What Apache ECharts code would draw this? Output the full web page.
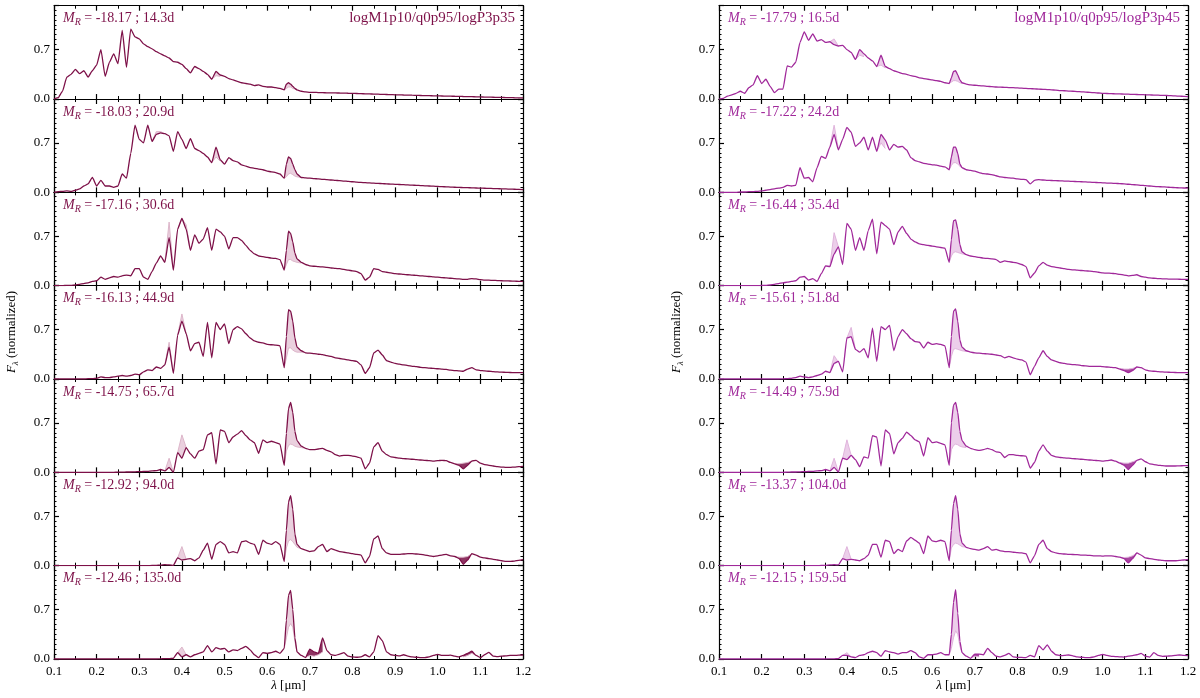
<!DOCTYPE html>
<html>
<head>
<meta charset="utf-8">
<script src="https://cdn.jsdelivr.net/npm/echarts/dist/echarts.min.js"></script>
<style>
  html, body { margin: 0; padding: 0; background: #fff; }
  #chart { width: 1200px; height: 698px; }
</style>
</head>
<body>
<div id="chart"></div>
<script>
// wavelength grid (micron), finer around H-alpha
const WL = [
  0.10,0.11,0.12,0.13,0.14,0.15,0.16,0.17,0.18,0.19,
  0.20,0.21,0.22,0.23,0.24,0.25,0.26,0.27,0.28,0.29,
  0.30,0.31,0.32,0.33,0.34,0.35,0.36,0.37,0.38,0.39,
  0.40,0.41,0.42,0.43,0.44,0.45,0.46,0.47,0.48,0.49,
  0.50,0.51,0.52,0.53,0.54,0.55,0.56,0.57,0.58,0.59,
  0.60,0.61,0.62,0.63,0.64,0.645,0.65,0.655,0.66,0.665,0.67,
  0.68,0.69,0.70,0.71,0.72,0.73,0.74,0.75,0.76,0.77,0.78,0.79,
  0.80,0.81,0.82,0.83,0.84,0.85,0.86,0.87,0.88,0.89,
  0.90,0.91,0.92,0.93,0.94,0.95,0.96,0.97,0.98,0.99,
  1.00,1.01,1.02,1.03,1.04,1.05,1.06,1.07,1.08,1.09,
  1.10,1.11,1.12,1.13,1.14,1.15,1.16,1.17,1.18,1.19,1.20
];

// left column: logM1p10/q0p95/logP3p35
const L1 = [
  0.00,0.02,0.11,0.31,0.35,0.42,0.36,0.40,0.31,0.40,
  0.48,0.70,0.32,0.52,0.64,0.50,0.97,0.45,0.99,0.88,
  0.85,0.78,0.74,0.71,0.67,0.64,0.61,0.58,0.53,0.52,
  0.49,0.43,0.37,0.46,0.43,0.39,0.35,0.28,0.39,0.34,
  0.32,0.29,0.27,0.25,0.23,0.22,0.21,0.19,0.20,0.18,
  0.17,0.17,0.16,0.15,0.13,0.21,0.23,0.21,0.18,0.15,0.13,
  0.11,0.10,0.095,0.094,0.092,0.09,0.088,0.087,0.086,0.085,0.083,0.082,
  0.08,0.078,0.076,0.074,0.072,0.07,0.068,0.066,0.064,0.062,
  0.06,0.058,0.057,0.055,0.054,0.052,0.05,0.049,0.047,0.046,
  0.045,0.043,0.042,0.04,0.039,0.037,0.036,0.034,0.033,0.031,
  0.03,0.028,0.027,0.025,0.024,0.022,0.021,0.019,0.018,0.016,0.015
];
const L2 = [
  0.00,0.01,0.015,0.02,0.015,0.03,0.05,0.09,0.12,0.21,
  0.09,0.17,0.09,0.09,0.07,0.09,0.26,0.20,0.55,0.95,
  0.75,0.70,0.95,0.72,0.82,0.84,0.83,0.80,0.58,0.86,
  0.75,0.62,0.76,0.62,0.59,0.55,0.50,0.42,0.64,0.46,
  0.40,0.49,0.45,0.43,0.39,0.37,0.35,0.34,0.33,0.32,
  0.30,0.29,0.28,0.26,0.20,0.40,0.50,0.48,0.40,0.32,0.26,
  0.21,0.205,0.20,0.195,0.19,0.185,0.18,0.175,0.17,0.165,0.16,0.155,
  0.15,0.145,0.14,0.137,0.134,0.13,0.127,0.124,0.12,0.117,
  0.114,0.111,0.108,0.105,0.102,0.099,0.096,0.093,0.09,0.087,
  0.084,0.081,0.078,0.075,0.072,0.07,0.068,0.066,0.064,0.062,
  0.06,0.058,0.056,0.054,0.052,0.05,0.048,0.046,0.044,0.042,0.04
];
const L3 = [
  0.00,0.00,0.00,0.005,0.005,0.01,0.02,0.03,0.04,0.06,
  0.07,0.12,0.09,0.11,0.13,0.12,0.14,0.15,0.14,0.24,
  0.24,0.12,0.09,0.20,0.32,0.42,0.33,0.68,0.22,0.80,
  0.95,0.80,0.50,0.72,0.60,0.66,0.82,0.50,0.80,0.76,
  0.70,0.52,0.68,0.68,0.64,0.57,0.50,0.45,0.42,0.41,
  0.40,0.39,0.385,0.37,0.22,0.50,0.77,0.74,0.62,0.46,0.38,
  0.33,0.30,0.28,0.275,0.27,0.265,0.26,0.25,0.245,0.24,0.23,0.22,
  0.21,0.20,0.17,0.08,0.12,0.24,0.23,0.20,0.19,0.18,
  0.17,0.165,0.16,0.155,0.15,0.145,0.14,0.135,0.13,0.125,
  0.12,0.115,0.11,0.105,0.10,0.095,0.09,0.09,0.10,0.095,
  0.085,0.08,0.078,0.075,0.073,0.07,0.068,0.066,0.064,0.062,0.06
];
const L4 = [
  0.00,0.00,0.00,0.00,0.00,0.00,0.00,0.00,0.005,0.005,
  0.01,0.03,0.02,0.02,0.03,0.04,0.05,0.04,0.05,0.07,
  0.06,0.10,0.13,0.12,0.17,0.15,0.20,0.45,0.08,0.62,
  0.82,0.64,0.40,0.50,0.52,0.32,0.80,0.30,0.80,0.70,
  0.78,0.50,0.70,0.74,0.71,0.64,0.58,0.54,0.52,0.51,
  0.49,0.485,0.48,0.47,0.16,0.60,0.98,0.96,0.82,0.58,0.45,
  0.40,0.37,0.365,0.36,0.35,0.345,0.33,0.32,0.30,0.29,0.28,0.27,
  0.26,0.25,0.20,0.08,0.16,0.37,0.41,0.34,0.26,0.24,
  0.22,0.21,0.20,0.19,0.18,0.175,0.165,0.16,0.155,0.15,
  0.145,0.14,0.135,0.125,0.12,0.115,0.11,0.14,0.16,0.13,
  0.12,0.115,0.11,0.105,0.10,0.097,0.094,0.092,0.09,0.09,0.09
];
const L5 = [
  0,0,0,0,0,0,0,0,0,0,
  0,0,0,0,0,0.003,0.003,0.005,0.005,0.008,
  0.01,0.012,0.015,0.02,0.025,0.04,0.02,0.07,0.00,0.28,
  0.20,0.35,0.26,0.20,0.30,0.32,0.53,0.56,0.12,0.60,
  0.58,0.42,0.50,0.54,0.59,0.52,0.46,0.42,0.27,0.46,
  0.42,0.44,0.42,0.40,0.10,0.55,0.90,0.99,0.85,0.58,0.45,
  0.37,0.34,0.32,0.32,0.33,0.34,0.31,0.29,0.25,0.23,0.24,0.24,
  0.23,0.22,0.20,0.05,0.13,0.36,0.42,0.30,0.25,0.22,
  0.21,0.20,0.195,0.19,0.185,0.18,0.175,0.17,0.165,0.16,
  0.165,0.17,0.165,0.14,0.12,0.10,0.05,0.10,0.16,0.17,
  0.13,0.11,0.10,0.09,0.08,0.075,0.07,0.07,0.075,0.08,0.085
];
const L6 = [
  0,0,0,0,0,0,0,0,0,0,
  0,0,0,0,0,0,0,0,0,0,
  0,0,0,0.003,0.005,0.008,0.015,0.01,0.005,0.11,
  0.08,0.09,0.10,0.07,0.11,0.22,0.32,0.09,0.30,0.34,
  0.30,0.18,0.20,0.18,0.34,0.35,0.32,0.30,0.16,0.36,
  0.32,0.30,0.34,0.30,0.06,0.50,0.90,0.99,0.80,0.45,0.30,
  0.24,0.22,0.20,0.21,0.27,0.30,0.20,0.24,0.22,0.20,0.19,0.18,
  0.17,0.16,0.15,0.04,0.13,0.38,0.42,0.24,0.18,0.16,
  0.16,0.16,0.165,0.17,0.17,0.165,0.16,0.15,0.14,0.13,
  0.14,0.15,0.16,0.14,0.13,0.10,0.02,0.08,0.17,0.15,
  0.12,0.11,0.10,0.09,0.08,0.07,0.06,0.06,0.065,0.075,0.085
];
const L7 = [
  0,0,0,0,0,0,0,0,0,0,
  0,0,0,0,0,0,0,0,0,0,
  0,0,0,0,0,0.003,0.005,0.005,0.01,0.09,
  0.03,0.06,0.03,0.06,0.08,0.10,0.19,0.10,0.16,0.14,
  0.15,0.10,0.13,0.12,0.15,0.18,0.13,0.06,0.02,0.09,
  0.08,0.09,0.11,0.08,0.15,0.55,0.90,0.97,0.70,0.30,0.10,
  0.05,0.02,0.14,0.10,0.08,0.30,0.12,0.06,0.05,0.07,0.09,0.04,
  0.03,0.025,0.03,0.06,0.03,0.10,0.33,0.26,0.10,0.06,
  0.05,0.045,0.06,0.04,0.03,0.025,0.02,0.02,0.03,0.05,
  0.066,0.05,0.05,0.055,0.04,0.03,0.05,0.08,0.11,0.05,
  0.02,0.06,0.095,0.04,0.035,0.04,0.045,0.05,0.05,0.055,0.057
];

// right column: logM1p10/q0p95/logP3p45
const R1 = [
  0.00,0.01,0.04,0.06,0.08,0.11,0.08,0.16,0.20,0.33,
  0.22,0.28,0.18,0.09,0.14,0.14,0.47,0.45,0.52,0.80,
  0.95,0.83,0.92,0.82,0.84,0.80,0.81,0.77,0.75,0.76,
  0.70,0.66,0.56,0.70,0.64,0.58,0.54,0.46,0.62,0.46,
  0.43,0.40,0.38,0.36,0.35,0.33,0.32,0.30,0.29,0.28,
  0.27,0.26,0.25,0.23,0.22,0.30,0.39,0.40,0.34,0.27,0.23,
  0.21,0.20,0.195,0.19,0.185,0.18,0.175,0.17,0.168,0.165,0.162,0.16,
  0.157,0.154,0.15,0.147,0.144,0.14,0.137,0.134,0.13,0.125,
  0.12,0.117,0.113,0.11,0.106,0.102,0.098,0.094,0.09,0.085,
  0.08,0.078,0.076,0.074,0.072,0.07,0.068,0.066,0.064,0.062,
  0.06,0.058,0.056,0.054,0.052,0.05,0.047,0.044,0.041,0.038,0.035
];
const R2 = [
  0,0,0,0,0,0.005,0.005,0.01,0.01,0.015,
  0.02,0.03,0.04,0.05,0.06,0.07,0.10,0.09,0.10,0.35,
  0.20,0.21,0.15,0.35,0.51,0.48,0.64,0.82,0.60,0.75,
  0.92,0.85,0.65,0.70,0.78,0.60,0.78,0.58,0.82,0.74,
  0.60,0.68,0.64,0.65,0.60,0.49,0.45,0.43,0.41,0.40,
  0.39,0.385,0.37,0.36,0.32,0.50,0.64,0.64,0.55,0.40,0.35,
  0.32,0.31,0.30,0.28,0.265,0.26,0.25,0.235,0.22,0.21,0.205,0.20,
  0.19,0.185,0.18,0.12,0.17,0.18,0.175,0.17,0.168,0.165,
  0.163,0.16,0.158,0.155,0.152,0.15,0.147,0.144,0.141,0.138,
  0.135,0.132,0.13,0.127,0.124,0.12,0.115,0.11,0.105,0.10,
  0.095,0.09,0.085,0.08,0.078,0.075,0.07,0.067,0.064,0.062,0.06
];
const R3 = [
  0,0,0,0,0,0,0,0,0,0,
  0.003,0.005,0.01,0.02,0.03,0.04,0.05,0.06,0.07,0.12,
  0.13,0.08,0.10,0.06,0.17,0.28,0.27,0.45,0.55,0.30,
  0.88,0.80,0.50,0.68,0.50,0.78,0.94,0.45,0.90,0.85,
  0.80,0.58,0.76,0.84,0.74,0.66,0.62,0.59,0.58,0.57,
  0.56,0.55,0.54,0.53,0.33,0.65,0.92,0.93,0.80,0.58,0.48,
  0.44,0.42,0.41,0.40,0.39,0.385,0.38,0.37,0.33,0.35,0.34,0.33,
  0.32,0.30,0.27,0.11,0.18,0.28,0.33,0.29,0.27,0.26,
  0.25,0.24,0.23,0.225,0.22,0.215,0.21,0.205,0.20,0.19,
  0.18,0.178,0.175,0.17,0.16,0.15,0.14,0.145,0.155,0.13,
  0.12,0.11,0.105,0.10,0.097,0.095,0.093,0.092,0.091,0.09,0.09
];
const R4 = [
  0,0,0,0,0,0,0,0,0,0,
  0,0,0,0,0,0.003,0.005,0.01,0.02,0.04,
  0.03,0.02,0.03,0.05,0.07,0.11,0.09,0.22,0.25,0.10,
  0.58,0.60,0.42,0.38,0.43,0.30,0.72,0.25,0.74,0.70,
  0.76,0.40,0.60,0.70,0.64,0.57,0.53,0.52,0.44,0.52,
  0.49,0.50,0.49,0.47,0.16,0.60,0.96,0.99,0.82,0.55,0.45,
  0.40,0.38,0.37,0.365,0.36,0.355,0.35,0.34,0.33,0.30,0.32,0.30,
  0.28,0.27,0.24,0.06,0.18,0.30,0.40,0.32,0.27,0.25,
  0.23,0.22,0.21,0.205,0.20,0.19,0.185,0.18,0.18,0.18,
  0.175,0.17,0.165,0.16,0.14,0.12,0.09,0.12,0.17,0.16,
  0.13,0.115,0.11,0.105,0.10,0.097,0.094,0.092,0.09,0.09,0.09
];
const R5 = [
  0,0,0,0,0,0,0,0,0,0,
  0,0,0,0,0,0,0.003,0.005,0.005,0.008,
  0.01,0.012,0.015,0.02,0.025,0.04,0.02,0.07,0.005,0.20,
  0.18,0.24,0.18,0.08,0.22,0.20,0.52,0.50,0.09,0.60,
  0.55,0.26,0.42,0.48,0.57,0.52,0.46,0.43,0.23,0.49,
  0.42,0.43,0.41,0.39,0.10,0.70,0.95,0.99,0.85,0.58,0.45,
  0.37,0.34,0.32,0.31,0.32,0.34,0.32,0.29,0.28,0.21,0.25,0.25,
  0.24,0.235,0.23,0.06,0.14,0.30,0.39,0.30,0.24,0.22,
  0.21,0.205,0.20,0.195,0.19,0.185,0.18,0.175,0.17,0.165,
  0.16,0.165,0.175,0.16,0.13,0.10,0.04,0.10,0.17,0.19,
  0.15,0.12,0.11,0.10,0.095,0.09,0.09,0.09,0.092,0.094,0.095
];
const R6 = [
  0,0,0,0,0,0,0,0,0,0,
  0,0,0,0,0,0,0,0,0,0,
  0,0,0,0,0.003,0.005,0.01,0.015,0.01,0.10,
  0.08,0.09,0.08,0.07,0.10,0.15,0.30,0.30,0.12,0.36,
  0.34,0.17,0.23,0.20,0.35,0.40,0.36,0.32,0.17,0.42,
  0.35,0.34,0.36,0.34,0.07,0.50,0.88,0.99,0.80,0.45,0.32,
  0.26,0.24,0.23,0.22,0.24,0.27,0.22,0.23,0.21,0.20,0.20,0.19,
  0.185,0.18,0.17,0.04,0.14,0.30,0.36,0.24,0.20,0.18,
  0.17,0.165,0.16,0.158,0.155,0.15,0.148,0.145,0.14,0.14,
  0.135,0.14,0.14,0.13,0.12,0.10,0.04,0.10,0.18,0.15,
  0.11,0.10,0.09,0.08,0.075,0.07,0.07,0.07,0.075,0.08,0.085
];
const R7 = [
  0,0,0,0,0,0,0,0,0,0,
  0,0,0,0,0,0,0,0,0,0,
  0,0,0,0,0,0,0.003,0.003,0.005,0.05,
  0.05,0.03,0.02,0.05,0.06,0.09,0.11,0.09,0.04,0.12,
  0.10,0.09,0.07,0.09,0.09,0.12,0.09,0.03,0.01,0.06,
  0.06,0.07,0.09,0.06,0.06,0.35,0.80,0.98,0.65,0.25,0.09,
  0.04,0.01,0.07,0.07,0.06,0.15,0.09,0.04,0.03,0.05,0.08,0.03,
  0.024,0.022,0.02,0.05,0.03,0.19,0.13,0.20,0.11,0.06,
  0.047,0.05,0.057,0.045,0.03,0.025,0.02,0.02,0.03,0.05,
  0.066,0.05,0.038,0.035,0.03,0.028,0.04,0.047,0.06,0.08,
  0.04,0.028,0.09,0.05,0.038,0.04,0.045,0.05,0.057,0.05,0.047
];

// comparison spectrum, only where it departs from the main one: [wavelength, flux]
const LITE_L1 = [
  [[0.47,0.28],[0.48,0.33],[0.49,0.32]],
  [[0.64,0.13],[0.645,0.15],[0.65,0.17],[0.655,0.17],[0.66,0.15],[0.665,0.14],[0.67,0.13]]
];
const LITE_L2 = [
  [[0.33,0.72],[0.34,0.86],[0.35,0.86],[0.36,0.83]],
  [[0.47,0.42],[0.48,0.50],[0.49,0.44]],
  [[0.64,0.20],[0.645,0.22],[0.65,0.26],[0.655,0.27],[0.66,0.25],[0.665,0.23],[0.67,0.22],[0.68,0.21]]
];
const LITE_L3 = [
  [[0.36,0.33],[0.37,0.90],[0.38,0.22]],
  [[0.39,0.80],[0.40,0.95],[0.41,0.86],[0.42,0.50]],
  [[0.64,0.22],[0.645,0.30],[0.65,0.37],[0.655,0.37],[0.66,0.35],[0.665,0.34],[0.67,0.33],[0.68,0.32]]
];
const LITE_L4 = [
  [[0.36,0.20],[0.37,0.52],[0.38,0.08]],
  [[0.39,0.62],[0.40,0.92],[0.41,0.64]],
  [[0.64,0.16],[0.645,0.30],[0.65,0.44],[0.655,0.44],[0.66,0.41],[0.665,0.39],[0.67,0.38],[0.68,0.38],[0.69,0.37]]
];
const LITE_L5 = [
  [[0.36,0.02],[0.37,0.20],[0.38,0.00]],
  [[0.39,0.28],[0.40,0.53],[0.41,0.35]],
  [[0.64,0.10],[0.645,0.30],[0.65,0.38],[0.655,0.40],[0.66,0.39],[0.665,0.37],[0.67,0.36],[0.68,0.35],[0.69,0.34]],
  [[1.04,0.12],[1.05,0.12],[1.06,0.13],[1.07,0.14],[1.08,0.16],[1.09,0.17]]
];
const LITE_L6 = [
  [[0.39,0.11],[0.40,0.27],[0.41,0.09]],
  [[0.64,0.06],[0.645,0.25],[0.65,0.35],[0.655,0.37],[0.66,0.34],[0.665,0.30],[0.67,0.26],[0.68,0.24]],
  [[1.04,0.13],[1.05,0.12],[1.06,0.12],[1.07,0.13],[1.08,0.17]]
];
const LITE_L7 = [
  [[0.39,0.09],[0.40,0.17],[0.41,0.06]],
  [[0.64,0.15],[0.645,0.30],[0.65,0.45],[0.655,0.50],[0.66,0.45],[0.665,0.25],[0.67,0.10]],
  [[0.69,0.02],[0.70,0.05],[0.71,0.04],[0.72,0.06],[0.73,0.10]],
  [[1.06,0.03],[1.07,0.05],[1.08,0.08],[1.09,0.05]]
];
const LITE_R1 = [
  [[0.36,0.81],[0.37,0.85],[0.38,0.75]],
  [[0.42,0.56],[0.43,0.62],[0.44,0.60]],
  [[0.47,0.46],[0.48,0.48],[0.49,0.44]],
  [[0.64,0.22],[0.645,0.24],[0.65,0.26],[0.655,0.26],[0.66,0.25],[0.665,0.23],[0.67,0.22]]
];
const LITE_R2 = [
  [[0.36,0.64],[0.37,0.95],[0.38,0.62]],
  [[0.47,0.58],[0.48,0.70],[0.49,0.62]],
  [[0.64,0.32],[0.645,0.38],[0.65,0.42],[0.655,0.42],[0.66,0.40],[0.665,0.37],[0.67,0.34],[0.68,0.32]]
];
const LITE_R3 = [
  [[0.36,0.27],[0.37,0.75],[0.38,0.55]],
  [[0.64,0.33],[0.645,0.42],[0.65,0.47],[0.655,0.48],[0.66,0.47],[0.665,0.46],[0.67,0.45],[0.68,0.44]]
];
const LITE_R4 = [
  [[0.36,0.09],[0.37,0.33],[0.38,0.24]],
  [[0.40,0.58],[0.41,0.73],[0.42,0.42]],
  [[0.64,0.16],[0.645,0.32],[0.65,0.42],[0.655,0.43],[0.66,0.42],[0.665,0.41],[0.67,0.40],[0.68,0.39]],
  [[1.04,0.15],[1.05,0.14],[1.06,0.14],[1.07,0.15],[1.08,0.17]]
];
const LITE_R5 = [
  [[0.36,0.02],[0.37,0.20],[0.38,0.005]],
  [[0.39,0.20],[0.40,0.46],[0.41,0.24]],
  [[0.64,0.10],[0.645,0.32],[0.65,0.38],[0.655,0.40],[0.66,0.39],[0.665,0.37],[0.67,0.36],[0.68,0.35]],
  [[1.04,0.14],[1.05,0.13],[1.06,0.13],[1.07,0.15],[1.08,0.17]]
];
const LITE_R6 = [
  [[0.39,0.10],[0.40,0.27],[0.41,0.09]],
  [[0.64,0.07],[0.645,0.25],[0.65,0.30],[0.655,0.32],[0.66,0.31],[0.665,0.29],[0.67,0.27],[0.68,0.26]],
  [[1.04,0.12],[1.05,0.115],[1.06,0.12],[1.07,0.14],[1.08,0.18]]
];
const LITE_R7 = [
  [[0.39,0.05],[0.40,0.09],[0.41,0.03]],
  [[0.64,0.06],[0.645,0.15],[0.65,0.30],[0.655,0.40],[0.66,0.35],[0.665,0.18],[0.67,0.09]],
  [[0.69,0.01],[0.70,0.04],[0.71,0.03]]
];

const MAG_L = ['-18.17', '-18.03', '-17.16', '-16.13', '-14.75', '-12.92', '-12.46'];
const DAY_L = ['14.3', '20.9', '30.6', '44.9', '65.7', '94.0', '135.0'];
const MAG_R = ['-17.79', '-17.22', '-16.44', '-15.61', '-14.49', '-13.37', '-12.15'];
const DAY_R = ['16.5', '24.2', '35.4', '51.8', '75.9', '104.0', '159.5'];

const FONT = 'Liberation Serif';
const TOP0 = 5.7, PANEL_H = 93.33, PANEL_W = 469;

const columns = [
    {
        left: 54, model: 'logM1p10/q0p95/logP3p35',
        color: '#7d1048', fill: '#ead0de', lite: '#ddb6ca', dark: '#8e3462',
        spectra: [L1, L2, L3, L4, L5, L6, L7],
        lites: [LITE_L1, LITE_L2, LITE_L3, LITE_L4, LITE_L5, LITE_L6, LITE_L7],
        mags: MAG_L, days: DAY_L,
    },
    {
        left: 719, model: 'logM1p10/q0p95/logP3p45',
        color: '#a0289a', fill: '#ecceea', lite: '#e0b4dc', dark: '#a8459f',
        spectra: [R1, R2, R3, R4, R5, R6, R7],
        lites: [LITE_R1, LITE_R2, LITE_R3, LITE_R4, LITE_R5, LITE_R6, LITE_R7],
        mags: MAG_R, days: DAY_R,
    },
];

function fluxAt(arr, x) {
    const k = WL.findIndex((w) => Math.abs(w - x) < 1e-6);
    return arr[k];
}

// polygon between the main and the comparison spectrum
function makeFill(segs, arr, col) {
    return function (params, api) {
        const seg = segs[params.dataIndex];
        const upper = seg.map((p) => api.coord([p[0], fluxAt(arr, p[0])]));
        const lower = seg.map((p) => api.coord(p)).reverse();
        const isDark = seg[0][0] >= 0.69;
        return {
            type: 'group',
            children: [
                { type: 'polygon', shape: { points: upper.concat(lower) }, style: { fill: isDark ? col.dark : col.fill } },
                { type: 'polyline', shape: { points: seg.map((p) => api.coord(p)) }, style: { stroke: col.lite, lineWidth: 1, fill: null } },
            ],
        };
    };
}

const tickColor = '#000';
const grids = [], xAxes = [], yAxes = [], series = [], graphics = [];

const richBase = {
    i: { fontFamily: FONT, fontStyle: 'italic', fontSize: 14, lineHeight: 18, verticalAlign: 'middle' },
    s: { fontFamily: FONT, fontStyle: 'italic', fontSize: 10, lineHeight: 18, verticalAlign: 'bottom' },
    t: { fontFamily: FONT, fontSize: 14, lineHeight: 18, verticalAlign: 'middle' },
};

columns.forEach((col, c) => {
    col.spectra.forEach((arr, i) => {
        const g = c * 7 + i;
        const top = TOP0 + i * PANEL_H;
        const last = i === 6;
        grids.push({ left: col.left, top: top, width: PANEL_W, height: PANEL_H });

        const xCommon = {
            type: 'value', gridIndex: g, min: 0.1, max: 1.2, interval: 0.1,
            axisLine: { show: true, onZero: false, lineStyle: { color: tickColor, width: 1.2 } },
            axisTick: { show: true, inside: true, length: 5, lineStyle: { color: tickColor, width: 1.2 } },
            minorTick: { show: true, splitNumber: 2, length: 3, lineStyle: { color: tickColor } },
            splitLine: { show: false },
        };
        xAxes.push(Object.assign({}, xCommon, {
            position: 'bottom',
            axisLabel: {
                show: last, margin: 6, color: '#000', fontFamily: FONT, fontSize: 13,
                formatter: (v) => v.toFixed(1),
            },
        }));
        xAxes.push(Object.assign({}, xCommon, { position: 'top', axisLabel: { show: false } }));

        const yCommon = {
            type: 'value', gridIndex: g, min: 0, max: 1.32, interval: 0.7,
            axisLine: { show: true, onZero: false, lineStyle: { color: tickColor, width: 1.2 } },
            axisTick: { show: true, inside: true, length: 5, lineStyle: { color: tickColor, width: 1.2 } },
            minorTick: { show: true, splitNumber: 10, length: 2.5, lineStyle: { color: tickColor } },
            splitLine: { show: false },
        };
        yAxes.push(Object.assign({}, yCommon, {
            position: 'left',
            axisLabel: {
                show: true, margin: 4, color: '#000', fontFamily: FONT, fontSize: 13,
                showMaxLabel: false, formatter: (v) => v.toFixed(1),
            },
        }));
        yAxes.push(Object.assign({}, yCommon, { position: 'right', axisLabel: { show: false } }));

        const segs = col.lites[i];
        series.push({
            type: 'custom', xAxisIndex: 2 * g, yAxisIndex: 2 * g, z: 1, silent: true, clip: true,
            data: segs.map((s) => [s[0][0], s[0][1]]),
            renderItem: makeFill(segs, arr, col),
        });
        series.push({
            type: 'line', xAxisIndex: 2 * g, yAxisIndex: 2 * g, z: 2, silent: true,
            showSymbol: false, smooth: 0.15, smoothMonotone: 'x', clip: true,
            lineStyle: { color: col.color, width: 1.3 },
            data: WL.map((w, j) => [w, arr[j]]),
        });

        graphics.push({
            type: 'text', x: col.left + 9, y: top + 4, silent: true,
            style: {
                text: '{i|M}{s|R}{t| = ' + col.mags[i] + ' ; ' + col.days[i] + 'd}',
                fill: col.color, rich: richBase,
            },
        });
        if (i === 0) {
            graphics.push({
                type: 'text', x: col.left + PANEL_W - 8, y: top + 12, silent: true,
                style: {
                    text: col.model, fill: col.color, align: 'right', verticalAlign: 'middle',
                    fontFamily: FONT, fontSize: 15,
                },
            });
        }
    });

    // axis names
    graphics.push({
        type: 'text', x: col.left - 42, y: 332, rotation: Math.PI / 2, silent: true,
        style: {
            text: '{i|F}{s|λ}{t| (normalized)}', fill: '#000', align: 'center', verticalAlign: 'middle',
            rich: {
                i: { fontFamily: FONT, fontStyle: 'italic', fontSize: 13, lineHeight: 16, verticalAlign: 'middle' },
                s: { fontFamily: FONT, fontStyle: 'italic', fontSize: 9, lineHeight: 16, verticalAlign: 'bottom' },
                t: { fontFamily: FONT, fontSize: 13, lineHeight: 16, verticalAlign: 'middle' },
            },
        },
    });
    graphics.push({
        type: 'text', x: col.left + PANEL_W / 2, y: 686, silent: true,
        style: {
            text: '{i|λ}{t| [μm]}', fill: '#000', align: 'center', verticalAlign: 'middle',
            rich: {
                i: { fontFamily: FONT, fontStyle: 'italic', fontSize: 13 },
                t: { fontFamily: FONT, fontSize: 13 },
            },
        },
    });
});

const myChart = echarts.init(document.getElementById('chart'));
myChart.setOption({
    animation: false,
    backgroundColor: '#fff',
    grid: grids,
    xAxis: xAxes,
    yAxis: yAxes,
    series: series,
    graphic: graphics,
});
</script>
</body>
</html>
